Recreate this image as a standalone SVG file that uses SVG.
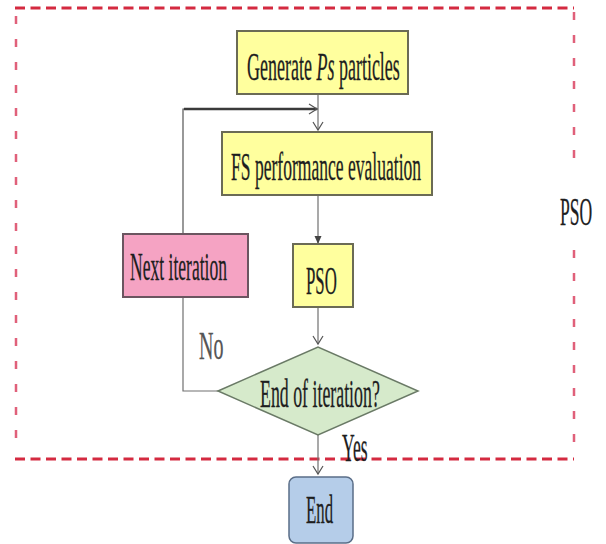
<svg xmlns="http://www.w3.org/2000/svg" width="606" height="544" viewBox="0 0 606 544">
<style>
.t{font-family:"Liberation Serif","Times New Roman",serif;font-size:40px;fill:#1e1e1e;stroke:#1e1e1e;stroke-width:0.3}
.yb{fill:#ffff9e;stroke:#6b6b55;stroke-width:2}
.ln{fill:none;stroke:#707070;stroke-width:1.2}
.dh{fill:none;stroke:#d42a40;stroke-width:3;stroke-dasharray:10 5.5}
.dv{fill:none;stroke:#e0607a;stroke-width:2.5;stroke-dasharray:8 15}
</style>
<defs>
<marker id="open" markerWidth="12" markerHeight="12" refX="10" refY="6" orient="auto" markerUnits="userSpaceOnUse">
<path d="M2,1 L10,6 L2,11" fill="none" stroke="#555" stroke-width="1.2"/>
</marker>
<marker id="fill" markerWidth="10" markerHeight="10" refX="9" refY="5" orient="auto" markerUnits="userSpaceOnUse">
<path d="M1,1.5 L9,5 L1,8.5 Z" fill="#444"/>
</marker>
</defs>
<rect width="606" height="544" fill="#fff"/>
<g id="boundary">
<line class="dh" x1="15" y1="8" x2="574" y2="8"/>
<line class="dh" x1="15" y1="459" x2="574" y2="459"/>
<line class="dv" x1="16" y1="16" x2="16" y2="452"/>
<line class="dv" x1="574" y1="12" x2="574" y2="160"/>
<line class="dv" x1="574" y1="250" x2="574" y2="452"/>
<text class="t" transform="translate(560,225) scale(0.44,1)" font-size="42">PSO</text>
</g>
<g id="connectors">
<line class="ln" x1="318" y1="94" x2="318" y2="130" marker-end="url(#open)"/>
<polyline points="183,233 183,109 318,109" fill="none" stroke="#555" stroke-width="1.2"/>
<line x1="184" y1="109" x2="317" y2="109" stroke="#3a3a3a" stroke-width="2.4" marker-end="url(#open)"/>
<line class="ln" x1="318" y1="195" x2="318" y2="244" marker-end="url(#fill)"/>
<line class="ln" x1="318" y1="308" x2="318" y2="344" marker-end="url(#open)"/>
<polyline class="ln" points="218,391 183,391 183,297"/>
<line class="ln" x1="318" y1="435" x2="318" y2="474" marker-end="url(#open)"/>
<text class="t" transform="translate(199,359) scale(0.5,1)" font-size="35" style="fill:#555;stroke:#555">No</text>
<text class="t" transform="translate(342,461) scale(0.44,1)" font-size="38">Yes</text>
</g>
<g id="generate">
<rect class="yb" x="237" y="31" width="171" height="63"/>
<text class="t" transform="translate(247,80) scale(0.45,1)">Generate <tspan font-style="italic">Ps</tspan> particles</text>
</g>
<g id="fs-eval">
<rect class="yb" x="222" y="132" width="210" height="63"/>
<text class="t" transform="translate(231,180) scale(0.439,1)">FS performance evaluation</text>
</g>
<g id="next-iteration">
<rect x="123" y="234" width="125" height="63" fill="#f5a3c3" stroke="#6b5560" stroke-width="2"/>
<text class="t" transform="translate(130,280) scale(0.439,1)">Next iteration</text>
</g>
<g id="pso">
<rect class="yb" x="293" y="244" width="60" height="63"/>
<text class="t" transform="translate(306,294) scale(0.42,1)" font-size="44">PSO</text>
</g>
<g id="end-check">
<polygon points="218,391 318,347 418,391 318,435" fill="#d6eacb" stroke="#6a7a66" stroke-width="1.5"/>
<text class="t" transform="translate(260,407) scale(0.446,1)">End of iteration?</text>
</g>
<g id="end">
<rect x="289" y="477" width="64" height="66" rx="7" fill="#b5cde9" stroke="#5a6e88" stroke-width="1.5"/>
<text class="t" transform="translate(306,523) scale(0.42,1)">End</text>
</g>
</svg>
